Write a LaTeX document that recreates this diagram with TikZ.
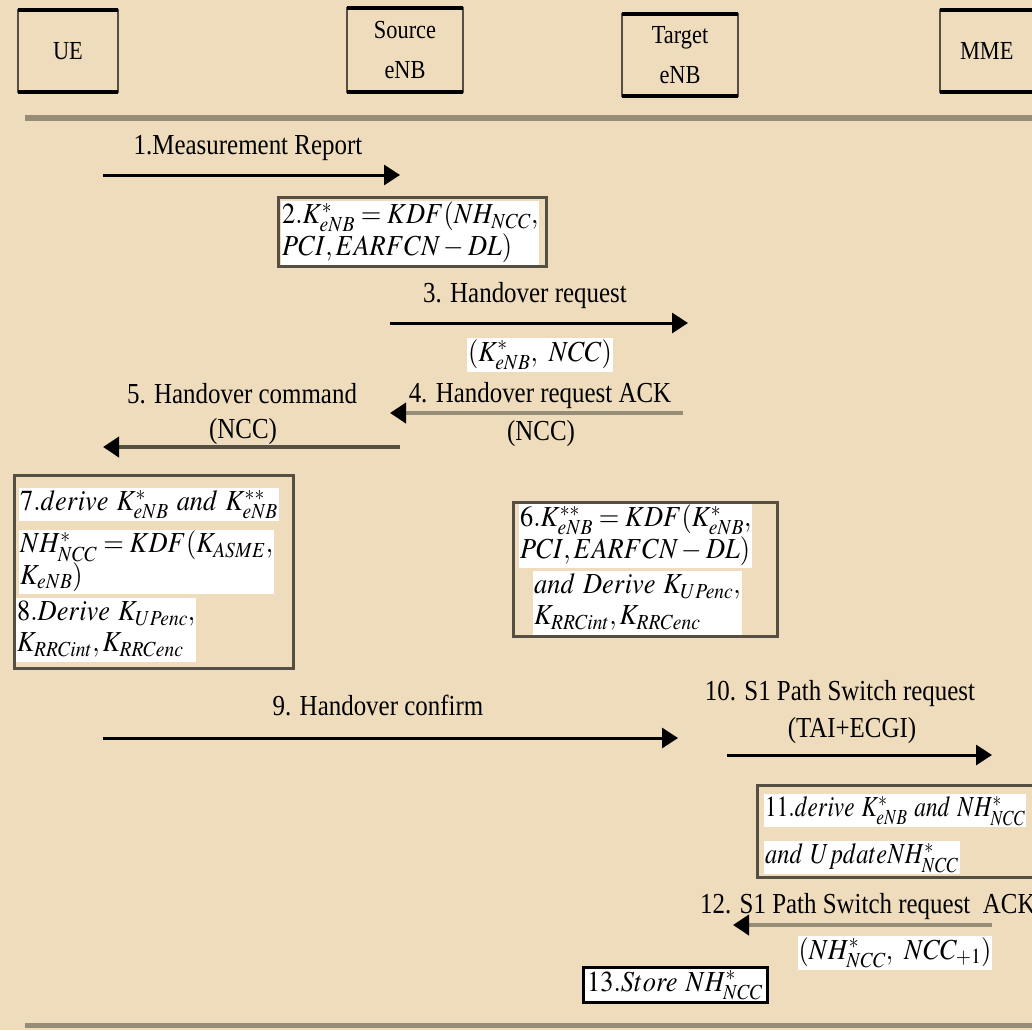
\documentclass[tikz,border=0pt]{standalone}
\usepackage{mathptmx}
\usepackage[no-math]{fontspec}
\usepackage{graphicx}
\newfontfamily\lf[FakeStretch=0.86]{Liberation Serif}
\usetikzlibrary{arrows.meta}
\definecolor{bg}{RGB}{238,220,188}
\definecolor{rulec}{RGB}{150,140,120}
\definecolor{dk}{RGB}{85,78,66}
\newcommand\mtx[2][0.91]{\scalebox{#1}[1]{\fontsize{29}{31}\selectfont\begin{tabular}{@{}l@{}}#2\end{tabular}}}
\tikzset{
  lbl/.style={font=\lf\fontsize{29}{32}\selectfont, inner sep=0pt},
  msg/.style={line width=3pt, -{Triangle[length=16pt,width=20pt,color=black]}},
  hdr/.style={draw=dk, line width=1.5pt, inner sep=0pt, outer sep=0pt, align=center,
              font=\lf\fontsize{26}{40}\selectfont, anchor=north west},
  boxf/.style={draw=dk, line width=3pt, inner sep=0pt, outer sep=0pt, anchor=north west},
  strip/.style={fill=white, inner sep=1pt, anchor=north west},
}
\begin{document}
\begin{tikzpicture}[x=1pt,y=1pt]
\useasboundingbox (0,0) rectangle (1032,-1030);
\fill[bg] (0,0) rectangle (1032,-1030);
\clip (0,0) rectangle (1032,-1030);

% header boxes
\node[hdr, minimum width=100pt, minimum height=82pt] (ue)  at (18,-10)  {UE};
\node[hdr, minimum width=116pt, minimum height=84pt] (src) at (347,-8)  {Source\\eNB};
\node[hdr, minimum width=116pt, minimum height=82pt] (tgt) at (622,-14) {Target\\eNB};
\node[hdr, minimum width=124pt, minimum height=82pt, text width=124pt, align=left] (mme) at (940,-10) {\hspace{20pt}MME};
\foreach \n in {ue,src,tgt,mme}{
  \draw[line width=3.5pt] (\n.north west) -- (\n.north east);
  \draw[line width=3.5pt] (\n.south west) -- (\n.south east);
}
\coordinate (tl) at (25,-118);
\coordinate (tr) at (1040,-118);
\draw[rulec, line width=6pt] (tl) -- (tr);

% 1
\coordinate (a1s) at (103,-175); \coordinate (a1e) at (400,-175);
\draw[msg] (a1s) -- (a1e);
\node[lbl] (l1) at (248,-148) {1.Measurement Report};

% 2
\node[boxf, minimum width=268pt, minimum height=69pt] (b2) at (278,-197) {};
\node[strip] (s2) at (281,-201) {\mtx{$2.K^{*}_{eNB}=KDF(NH_{NCC},$\\$PCI,EARFCN-DL)$}};

% 3
\coordinate (a3s) at (390,-323); \coordinate (a3e) at (688,-323);
\draw[msg] (a3s) -- (a3e);
\node[lbl] (l3) at (525,-296) {3. Handover request};
\node[fill=white, inner sep=1pt] (p3) at (540,-355) {\mtx{$(K^{*}_{eNB},\ NCC)$}};

% 4
\coordinate (a4s) at (683,-413); \coordinate (a4e) at (390,-413);
\draw[msg, rulec, line width=4pt] (a4s) -- (a4e);
\node[lbl] (l4) at (540,-396) {4. Handover request ACK};
\node[lbl] (p4) at (541,-434) {(NCC)};

% 5
\coordinate (a5s) at (400,-447); \coordinate (a5e) at (103,-447);
\draw[msg, dk, line width=4pt] (a5s) -- (a5e);
\node[lbl] (l5) at (242,-394) {5. Handover command};
\node[lbl] (p5) at (243,-432) {(NCC)};

% 7/8
\node[boxf, minimum width=279pt, minimum height=193pt] (b7) at (14,-475) {};
\node[strip] (s7a) at (19,-488) {\mtx{$7.derive\ K^{*}_{eNB}\ and\ K^{**}_{eNB}$}};
\node[strip] (s7b) at (19,-530) {\mtx{$NH^{*}_{NCC}=KDF(K_{ASME},$\\$K_{eNB})$}};
\node[strip] (s8) at (16,-598) {\mtx{$8.Derive\ K_{UPenc},$\\$K_{RRCint},K_{RRCenc}$}};

% 6
\node[boxf, minimum width=264pt, minimum height=134pt] (b6) at (513,-502) {};
\node[strip] (s6a) at (519,-504) {\mtx{$6.K^{**}_{eNB}=KDF(K^{*}_{eNB},$\\$PCI,EARFCN-DL)$}};
\node[strip] (s6b) at (533,-571) {\mtx{$and\ Derive\ K_{UPenc},$\\$K_{RRCint},K_{RRCenc}$}};

% 9
\coordinate (a9s) at (103,-738); \coordinate (a9e) at (678,-738);
\draw[msg] (a9s) -- (a9e);
\node[lbl] (l9) at (378,-705) {9. Handover confirm};

% 10
\coordinate (a10s) at (727,-755); \coordinate (a10e) at (992,-755);
\draw[msg] (a10s) -- (a10e);
\node[lbl] (l10) at (840,-694) {10. S1 Path Switch request};
\node[lbl] (p10) at (852,-731) {(TAI+ECGI)};

% 11
\node[boxf, minimum width=290pt, minimum height=92pt] (b11) at (757,-785) {};
\node[strip] (s11a) at (764,-794) {\mtx[0.8]{$11.derive\ K^{*}_{eNB}\ and\ NH^{*}_{NCC}$}};
\node[strip] (s11b) at (764,-841) {\mtx[0.84]{$and\ UpdateNH^{*}_{NCC}$}};

% 12
\coordinate (a12s) at (992,-925); \coordinate (a12e) at (733,-925);
\draw[msg, rulec, line width=4pt] (a12s) -- (a12e);
\node[lbl, anchor=west] (l12) at (700,-907) {12. S1 Path Switch request\ \ ACK};
\node[fill=white, inner sep=1pt] (p12) at (895,-953) {\mtx{$(NH^{*}_{NCC},\ NCC_{+1})$}};

% 13
\node[draw=black, line width=3pt, fill=white, inner sep=1pt, minimum width=184pt, minimum height=35pt] (b13) at (675,-985) {\mtx{$13.Store\ NH^{*}_{NCC}$}};

% bottom rule
\coordinate (bl) at (25,-1025);
\coordinate (br) at (1040,-1025);
\draw[rulec, line width=5pt] (bl) -- (br);
\end{tikzpicture}
\end{document}
